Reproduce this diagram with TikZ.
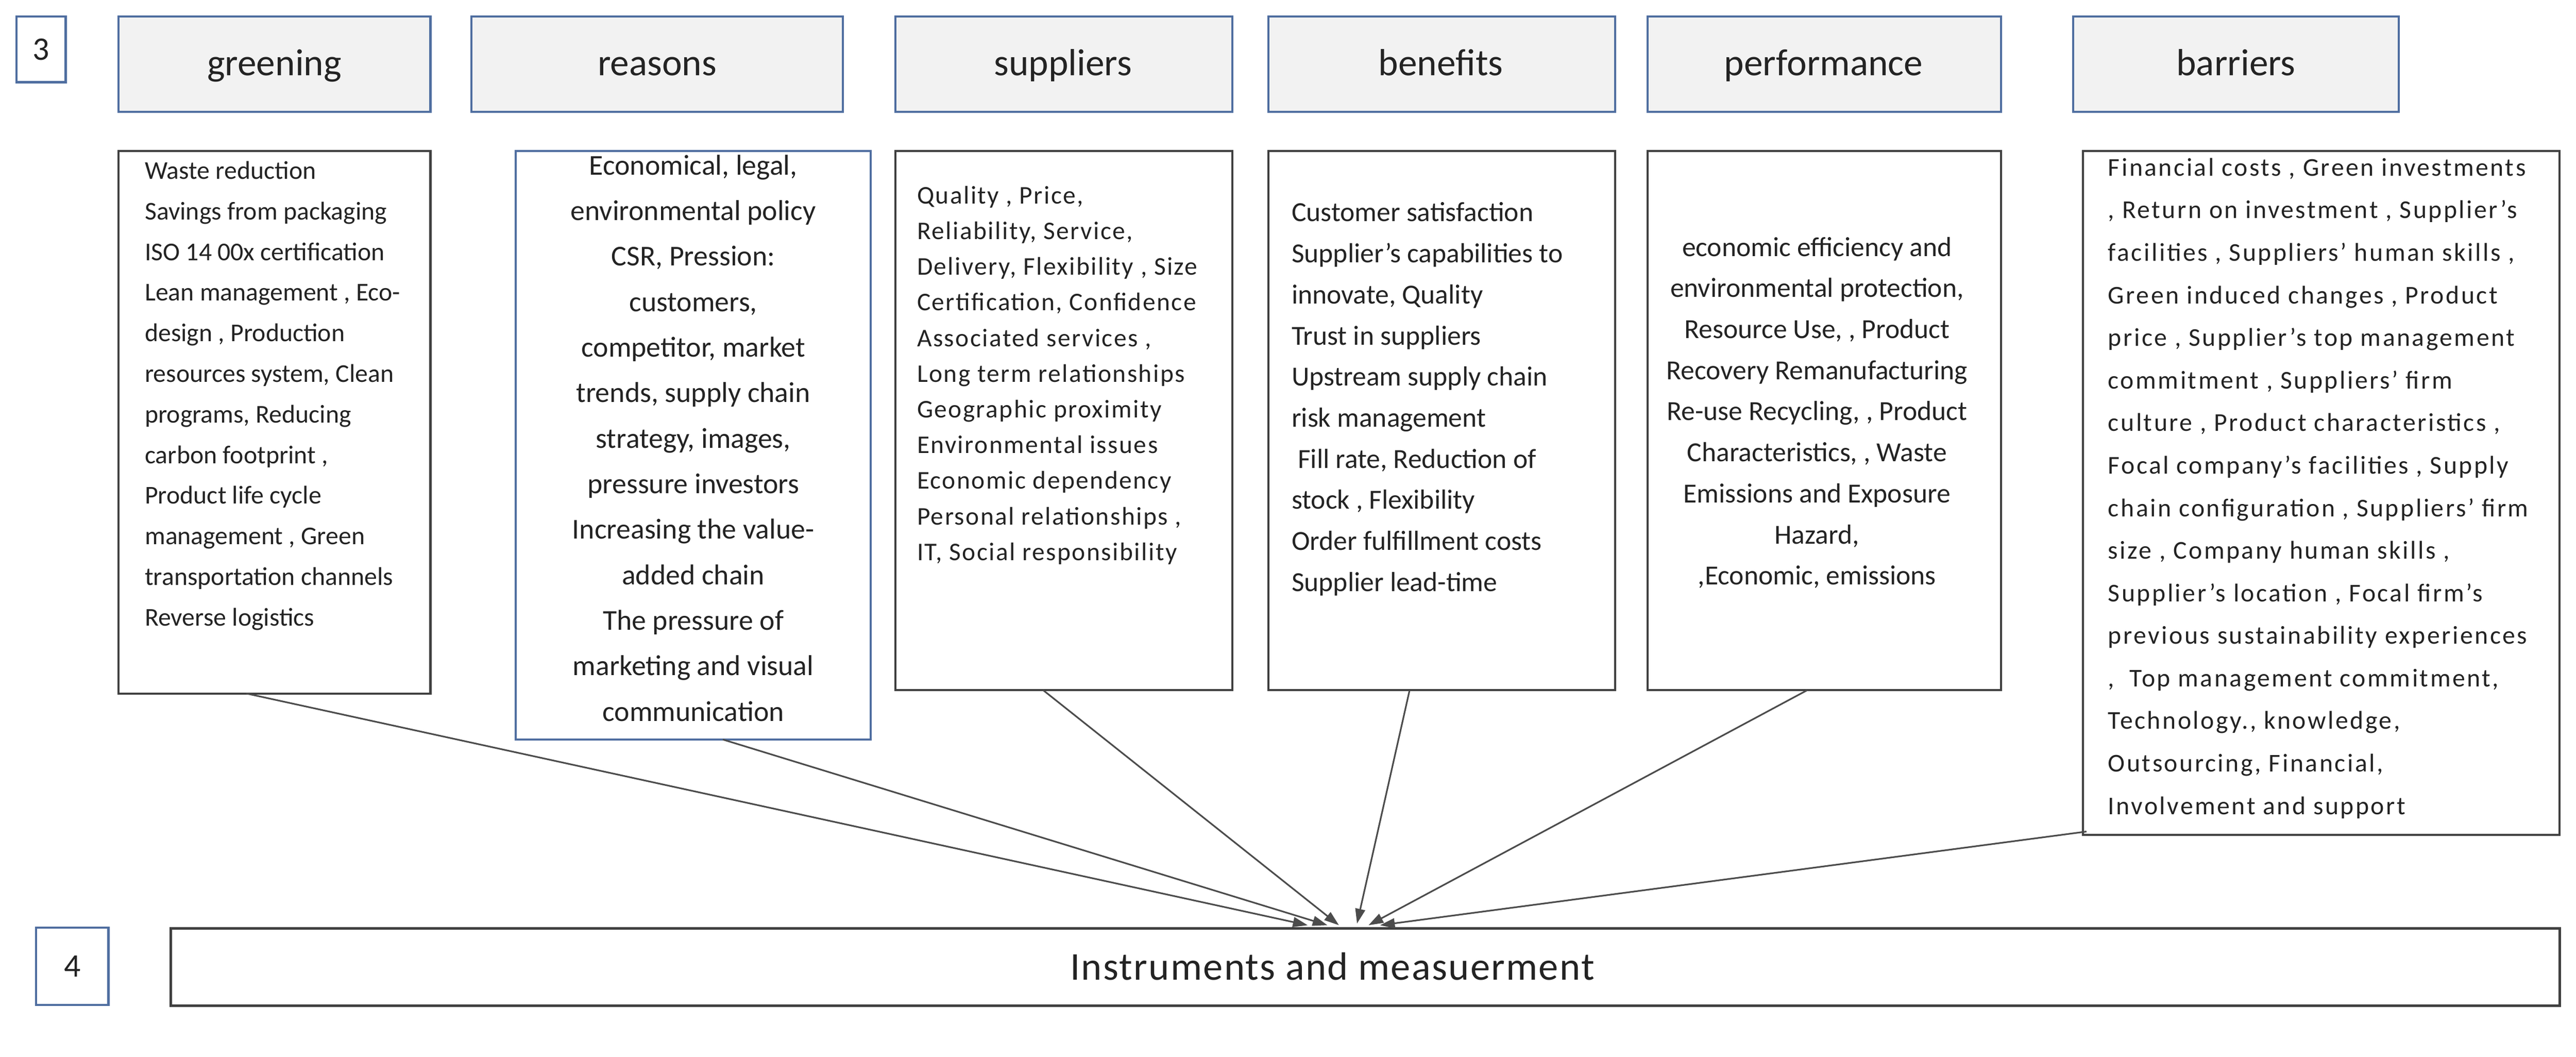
\documentclass[tikz,border=0pt]{standalone}
\usepackage{fontspec}
\setmainfont{Carlito}
\usetikzlibrary{arrows.meta}
\definecolor{steel}{RGB}{79,110,160}
\definecolor{txt}{RGB}{35,35,35}
\begin{document}
\begin{tikzpicture}[x=1pt,y=-1pt,
 hdr/.style={draw=steel,line width=1.3pt,fill=gray!10},
 htxt/.style={font=\fontsize{23}{25}\selectfont,text=txt,anchor=base},
 num/.style={draw=steel,line width=1.3pt,fill=white,font=\fontsize{20}{22}\selectfont,text=txt},
 body/.style={draw=black!75,line width=1.3pt,fill=white},
 btxt/.style={text=txt,inner sep=0pt},
 arr/.style={draw=black!70,line width=1pt,-{Triangle[length=9pt,width=6pt]}}]
\useasboundingbox (0,0) rectangle (1568,643);
% row 3 headers
\node[num,minimum width=30,minimum height=40] (n3) at (25,30) {3};
\path[hdr] (72,10) rectangle (262,68); \node[htxt] (hg) at (167,46) {greening};
\path[hdr] (287,10) rectangle (513,68); \node[htxt] (hr) at (400,46) {reasons};
\path[hdr] (545,10) rectangle (750,68); \node[htxt] (hs) at (647,46) {suppliers};
\path[hdr] (772,10) rectangle (983,68); \node[htxt] (hb) at (877,46) {benefits};
\path[hdr] (1003,10) rectangle (1218,68); \node[htxt] (hp) at (1110,46) {performance};
\path[hdr] (1262,10) rectangle (1460,68); \node[htxt] (hba) at (1361,46) {barriers};
% content boxes
\draw[body] (72,92) rectangle (262,422);
\node[btxt,font=\fontsize{15.6}{24.7}\selectfont,align=left,anchor=north west] (g) at (88,98) {Waste reduction\\Savings from packaging\\ISO 14 00x certification\\Lean management , Eco-\\design , Production\\resources system, Clean\\programs, Reducing\\carbon footprint ,\\Product life cycle\\management , Green\\transportation channels\\Reverse logistics};
\draw[body,draw=steel] (314,92) rectangle (530,450);
\node[btxt,font=\fontsize{17.5}{27.7}\selectfont,align=center,anchor=north] (r) at (422,94) {Economical, legal,\\environmental policy\\CSR, Pression:\\customers,\\competitor, market\\trends, supply chain\\strategy, images,\\pressure investors\\Increasing the value-\\added chain\\The pressure of\\marketing and visual\\communication};
\draw[body] (545,92) rectangle (750,420);
\node[btxt,font=\fontsize{15.5}{21.7}\selectfont\addfontfeature{LetterSpace=5},align=left,anchor=north west] (s) at (558,113) {Quality , Price,\\Reliability, Service,\\Delivery, Flexibility , Size\\Certification, Confidence\\Associated services ,\\Long term relationships\\Geographic proximity\\Environmental issues\\Economic dependency\\Personal relationships ,\\IT, Social responsibility};
\draw[body] (772,92) rectangle (983,420);
\node[btxt,font=\fontsize{16.8}{25}\selectfont,align=left,anchor=north west] (b) at (786,123) {Customer satisfaction\\Supplier's capabilities to\\innovate, Quality\\Trust in suppliers\\Upstream supply chain\\risk management\\\ Fill rate, Reduction of\\stock , Flexibility\\Order fulfillment costs\\Supplier lead-time};
\draw[body] (1003,92) rectangle (1218,420);
\node[btxt,font=\fontsize{16.8}{25}\selectfont,align=center,anchor=north] (p) at (1106,144) {economic efficiency and\\environmental protection,\\Resource Use, , Product\\Recovery Remanufacturing\\Re-use Recycling, , Product\\Characteristics, , Waste\\Emissions and Exposure\\Hazard,\\,Economic, emissions};
\draw[body] (1268,92) rectangle (1558,508);
\node[btxt,font=\fontsize{15.6}{25.9}\selectfont\addfontfeature{LetterSpace=7},align=left,anchor=north west] (ba) at (1283,96) {Financial costs , Green investments\\, Return on investment , Supplier's\\facilities , Suppliers' human skills ,\\Green induced changes , Product\\price , Supplier's top management\\commitment , Suppliers' firm\\culture , Product characteristics ,\\Focal company's facilities , Supply\\chain configuration , Suppliers' firm\\size , Company human skills ,\\Supplier's location , Focal firm's\\previous sustainability experiences\\,\ \ Top management commitment,\\Technology., knowledge,\\Outsourcing, Financial,\\Involvement and support};
% row 4
\node[num,minimum width=44,minimum height=47] (n4) at (44,588) {4};
\draw[body,line width=1.5pt] (104,565) rectangle (1558,612);
\node[font=\fontsize{24}{26}\selectfont\addfontfeature{LetterSpace=3},text=txt] (inst) at (811,588) {Instruments and measuerment};
% anchors
\coordinate (sg) at (150,422); \coordinate (sr) at (440,450); \coordinate (ss) at (635,420);
\coordinate (sb) at (858,420); \coordinate (sp) at (1100,420); \coordinate (sba) at (1270,506);
\coordinate (tg) at (796,563); \coordinate (tr) at (808,563); \coordinate (ts) at (815,563);
\coordinate (tb) at (826,562); \coordinate (tp) at (833,563); \coordinate (tba) at (840,563);
\draw[arr] (sg) -- (tg);
\draw[arr] (sr) -- (tr);
\draw[arr] (ss) -- (ts);
\draw[arr] (sb) -- (tb);
\draw[arr] (sp) -- (tp);
\draw[arr] (sba) -- (tba);
\end{tikzpicture}
\end{document}
